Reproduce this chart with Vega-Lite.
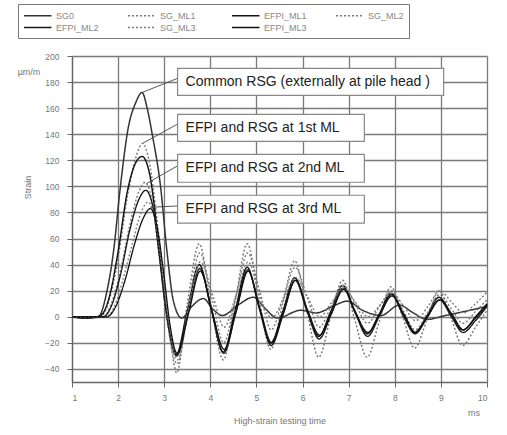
{
  "$schema": "https://vega.github.io/schema/vega-lite/v6.json",
  "width": 415,
  "height": 326,
  "autosize": {"type": "none"},
  "padding": {"left": 72, "top": 56, "right": 20, "bottom": 53},
  "background": "white",
  "config": {
    "font": "Liberation Sans",
    "view": {"stroke": null},
    "axis": {
      "gridColor": "#7a7a7a", "gridWidth": 1.3, "gridOpacity": 1,
      "domainColor": "#666", "domainWidth": 1.3,
      "tickColor": "#666", "tickSize": 5,
      "labelColor": "#777", "labelFontSize": 8.5,
      "titleColor": "#777", "titleFontSize": 9, "titleFontWeight": "normal"
    }
  },
  "resolve": {"scale": {"x": "shared", "y": "shared"}, "axis": {"x": "independent", "y": "independent"}},
  "datasets": {
    "curves": [
      {"s":"SG0","t":1,"v":0},{"s":"SG0","t":1.3,"v":-1},{"s":"SG0","t":1.57,"v":0},{"s":"SG0","t":1.76,"v":20},{"s":"SG0","t":1.9,"v":50},{"s":"SG0","t":2.05,"v":100},{"s":"SG0","t":2.22,"v":145},{"s":"SG0","t":2.38,"v":164},{"s":"SG0","t":2.52,"v":172},{"s":"SG0","t":2.63,"v":160},{"s":"SG0","t":2.74,"v":140},{"s":"SG0","t":2.92,"v":100},{"s":"SG0","t":3.06,"v":50},{"s":"SG0","t":3.2,"v":12},{"s":"SG0","t":3.38,"v":-1},{"s":"SG0","t":3.6,"v":8},{"s":"SG0","t":3.85,"v":14},{"s":"SG0","t":4.05,"v":6},{"s":"SG0","t":4.26,"v":1},{"s":"SG0","t":4.6,"v":9},{"s":"SG0","t":4.93,"v":15},{"s":"SG0","t":5.2,"v":6},{"s":"SG0","t":5.45,"v":-1},{"s":"SG0","t":5.96,"v":5},{"s":"SG0","t":6.3,"v":3},{"s":"SG0","t":6.65,"v":8},{"s":"SG0","t":6.97,"v":12},{"s":"SG0","t":7.3,"v":5},{"s":"SG0","t":7.7,"v":1},{"s":"SG0","t":8.1,"v":9},{"s":"SG0","t":8.4,"v":3},{"s":"SG0","t":8.7,"v":-2},{"s":"SG0","t":9.1,"v":1},{"s":"SG0","t":9.5,"v":4},{"s":"SG0","t":10,"v":8},
      {"s":"SG_ML1","t":1,"v":0},{"s":"SG_ML1","t":1.3,"v":-1},{"s":"SG_ML1","t":1.62,"v":0},{"s":"SG_ML1","t":1.8,"v":12},{"s":"SG_ML1","t":2.0,"v":45},{"s":"SG_ML1","t":2.2,"v":92},{"s":"SG_ML1","t":2.4,"v":124},{"s":"SG_ML1","t":2.53,"v":133},{"s":"SG_ML1","t":2.68,"v":118},{"s":"SG_ML1","t":2.85,"v":72},{"s":"SG_ML1","t":3.0,"v":22},{"s":"SG_ML1","t":3.15,"v":-22},{"s":"SG_ML1","t":3.27,"v":-43},{"s":"SG_ML1","t":3.5,"v":10},{"s":"SG_ML1","t":3.76,"v":56},{"s":"SG_ML1","t":4.02,"v":8},{"s":"SG_ML1","t":4.28,"v":-33},{"s":"SG_ML1","t":4.54,"v":12},{"s":"SG_ML1","t":4.8,"v":56},{"s":"SG_ML1","t":5.05,"v":15},{"s":"SG_ML1","t":5.31,"v":-25},{"s":"SG_ML1","t":5.57,"v":10},{"s":"SG_ML1","t":5.83,"v":43},{"s":"SG_ML1","t":6.09,"v":5},{"s":"SG_ML1","t":6.35,"v":-31},{"s":"SG_ML1","t":6.61,"v":0},{"s":"SG_ML1","t":6.87,"v":28},{"s":"SG_ML1","t":7.13,"v":-2},{"s":"SG_ML1","t":7.4,"v":-31},{"s":"SG_ML1","t":7.66,"v":-4},{"s":"SG_ML1","t":7.92,"v":23},{"s":"SG_ML1","t":8.17,"v":0},{"s":"SG_ML1","t":8.43,"v":-24},{"s":"SG_ML1","t":8.7,"v":-2},{"s":"SG_ML1","t":8.96,"v":20},{"s":"SG_ML1","t":9.22,"v":-1},{"s":"SG_ML1","t":9.47,"v":-22},{"s":"SG_ML1","t":9.75,"v":-8},{"s":"SG_ML1","t":10,"v":5},
      {"s":"EFPI_ML1","t":1,"v":0},{"s":"EFPI_ML1","t":1.3,"v":-1},{"s":"EFPI_ML1","t":1.62,"v":1},{"s":"EFPI_ML1","t":1.8,"v":14},{"s":"EFPI_ML1","t":2.0,"v":50},{"s":"EFPI_ML1","t":2.2,"v":96},{"s":"EFPI_ML1","t":2.38,"v":118},{"s":"EFPI_ML1","t":2.52,"v":123},{"s":"EFPI_ML1","t":2.68,"v":110},{"s":"EFPI_ML1","t":2.85,"v":65},{"s":"EFPI_ML1","t":3.0,"v":15},{"s":"EFPI_ML1","t":3.15,"v":-18},{"s":"EFPI_ML1","t":3.26,"v":-29},{"s":"EFPI_ML1","t":3.5,"v":5},{"s":"EFPI_ML1","t":3.76,"v":40},{"s":"EFPI_ML1","t":4.02,"v":6},{"s":"EFPI_ML1","t":4.28,"v":-27},{"s":"EFPI_ML1","t":4.54,"v":5},{"s":"EFPI_ML1","t":4.8,"v":38},{"s":"EFPI_ML1","t":5.05,"v":8},{"s":"EFPI_ML1","t":5.31,"v":-20},{"s":"EFPI_ML1","t":5.57,"v":4},{"s":"EFPI_ML1","t":5.83,"v":30},{"s":"EFPI_ML1","t":6.09,"v":6},{"s":"EFPI_ML1","t":6.35,"v":-15},{"s":"EFPI_ML1","t":6.61,"v":4},{"s":"EFPI_ML1","t":6.87,"v":24},{"s":"EFPI_ML1","t":7.13,"v":5},{"s":"EFPI_ML1","t":7.4,"v":-13},{"s":"EFPI_ML1","t":7.66,"v":2},{"s":"EFPI_ML1","t":7.92,"v":18},{"s":"EFPI_ML1","t":8.17,"v":3},{"s":"EFPI_ML1","t":8.43,"v":-12},{"s":"EFPI_ML1","t":8.7,"v":1},{"s":"EFPI_ML1","t":8.96,"v":15},{"s":"EFPI_ML1","t":9.22,"v":2},{"s":"EFPI_ML1","t":9.47,"v":-10},{"s":"EFPI_ML1","t":9.75,"v":-1},{"s":"EFPI_ML1","t":10,"v":9},
      {"s":"SG_ML2","t":1,"v":0},{"s":"SG_ML2","t":1.68,"v":0},{"s":"SG_ML2","t":1.85,"v":10},{"s":"SG_ML2","t":2.05,"v":35},{"s":"SG_ML2","t":2.25,"v":70},{"s":"SG_ML2","t":2.45,"v":96},{"s":"SG_ML2","t":2.58,"v":103},{"s":"SG_ML2","t":2.72,"v":92},{"s":"SG_ML2","t":2.88,"v":50},{"s":"SG_ML2","t":3.05,"v":0},{"s":"SG_ML2","t":3.28,"v":-36},{"s":"SG_ML2","t":3.52,"v":8},{"s":"SG_ML2","t":3.77,"v":49},{"s":"SG_ML2","t":4.03,"v":15},{"s":"SG_ML2","t":4.29,"v":-20},{"s":"SG_ML2","t":4.55,"v":15},{"s":"SG_ML2","t":4.81,"v":49},{"s":"SG_ML2","t":5.07,"v":20},{"s":"SG_ML2","t":5.32,"v":-10},{"s":"SG_ML2","t":5.58,"v":14},{"s":"SG_ML2","t":5.84,"v":38},{"s":"SG_ML2","t":6.1,"v":15},{"s":"SG_ML2","t":6.36,"v":-8},{"s":"SG_ML2","t":6.62,"v":8},{"s":"SG_ML2","t":6.88,"v":24},{"s":"SG_ML2","t":7.14,"v":10},{"s":"SG_ML2","t":7.41,"v":-5},{"s":"SG_ML2","t":7.67,"v":8},{"s":"SG_ML2","t":7.93,"v":20},{"s":"SG_ML2","t":8.18,"v":5},{"s":"SG_ML2","t":8.44,"v":-10},{"s":"SG_ML2","t":8.71,"v":3},{"s":"SG_ML2","t":8.97,"v":17},{"s":"SG_ML2","t":9.23,"v":6},{"s":"SG_ML2","t":9.48,"v":-5},{"s":"SG_ML2","t":9.75,"v":4},{"s":"SG_ML2","t":10,"v":13},
      {"s":"EFPI_ML2","t":1,"v":0},{"s":"EFPI_ML2","t":1.68,"v":0},{"s":"EFPI_ML2","t":1.85,"v":8},{"s":"EFPI_ML2","t":2.05,"v":32},{"s":"EFPI_ML2","t":2.25,"v":66},{"s":"EFPI_ML2","t":2.45,"v":90},{"s":"EFPI_ML2","t":2.6,"v":97},{"s":"EFPI_ML2","t":2.75,"v":85},{"s":"EFPI_ML2","t":2.9,"v":45},{"s":"EFPI_ML2","t":3.07,"v":-2},{"s":"EFPI_ML2","t":3.27,"v":-30},{"s":"EFPI_ML2","t":3.52,"v":3},{"s":"EFPI_ML2","t":3.77,"v":37},{"s":"EFPI_ML2","t":4.03,"v":4},{"s":"EFPI_ML2","t":4.29,"v":-28},{"s":"EFPI_ML2","t":4.55,"v":3},{"s":"EFPI_ML2","t":4.81,"v":36},{"s":"EFPI_ML2","t":5.07,"v":6},{"s":"EFPI_ML2","t":5.32,"v":-22},{"s":"EFPI_ML2","t":5.58,"v":2},{"s":"EFPI_ML2","t":5.84,"v":28},{"s":"EFPI_ML2","t":6.1,"v":4},{"s":"EFPI_ML2","t":6.36,"v":-17},{"s":"EFPI_ML2","t":6.62,"v":2},{"s":"EFPI_ML2","t":6.88,"v":22},{"s":"EFPI_ML2","t":7.14,"v":3},{"s":"EFPI_ML2","t":7.41,"v":-15},{"s":"EFPI_ML2","t":7.67,"v":1},{"s":"EFPI_ML2","t":7.93,"v":17},{"s":"EFPI_ML2","t":8.18,"v":1},{"s":"EFPI_ML2","t":8.44,"v":-13},{"s":"EFPI_ML2","t":8.71,"v":0},{"s":"EFPI_ML2","t":8.97,"v":13},{"s":"EFPI_ML2","t":9.23,"v":0},{"s":"EFPI_ML2","t":9.48,"v":-12},{"s":"EFPI_ML2","t":9.75,"v":-3},{"s":"EFPI_ML2","t":10,"v":8},
      {"s":"SG_ML3","t":1,"v":0},{"s":"SG_ML3","t":1.75,"v":0},{"s":"SG_ML3","t":1.92,"v":8},{"s":"SG_ML3","t":2.1,"v":28},{"s":"SG_ML3","t":2.3,"v":55},{"s":"SG_ML3","t":2.5,"v":80},{"s":"SG_ML3","t":2.65,"v":88},{"s":"SG_ML3","t":2.8,"v":75},{"s":"SG_ML3","t":2.95,"v":38},{"s":"SG_ML3","t":3.1,"v":-5},{"s":"SG_ML3","t":3.29,"v":-33},{"s":"SG_ML3","t":3.53,"v":5},{"s":"SG_ML3","t":3.78,"v":42},{"s":"SG_ML3","t":4.04,"v":18},{"s":"SG_ML3","t":4.3,"v":-8},{"s":"SG_ML3","t":4.56,"v":17},{"s":"SG_ML3","t":4.82,"v":42},{"s":"SG_ML3","t":5.08,"v":15},{"s":"SG_ML3","t":5.33,"v":-1},{"s":"SG_ML3","t":5.59,"v":14},{"s":"SG_ML3","t":5.85,"v":30},{"s":"SG_ML3","t":6.11,"v":15},{"s":"SG_ML3","t":6.37,"v":0},{"s":"SG_ML3","t":6.63,"v":11},{"s":"SG_ML3","t":6.89,"v":22},{"s":"SG_ML3","t":7.15,"v":11},{"s":"SG_ML3","t":7.42,"v":0},{"s":"SG_ML3","t":7.68,"v":9},{"s":"SG_ML3","t":7.94,"v":18},{"s":"SG_ML3","t":8.2,"v":8},{"s":"SG_ML3","t":8.45,"v":-3},{"s":"SG_ML3","t":8.72,"v":8},{"s":"SG_ML3","t":8.98,"v":20},{"s":"SG_ML3","t":9.24,"v":11},{"s":"SG_ML3","t":9.49,"v":3},{"s":"SG_ML3","t":9.75,"v":10},{"s":"SG_ML3","t":10,"v":19},
      {"s":"EFPI_ML3","t":1,"v":0},{"s":"EFPI_ML3","t":1.75,"v":0},{"s":"EFPI_ML3","t":1.95,"v":8},{"s":"EFPI_ML3","t":2.15,"v":28},{"s":"EFPI_ML3","t":2.35,"v":55},{"s":"EFPI_ML3","t":2.55,"v":76},{"s":"EFPI_ML3","t":2.7,"v":83},{"s":"EFPI_ML3","t":2.85,"v":68},{"s":"EFPI_ML3","t":3.0,"v":30},{"s":"EFPI_ML3","t":3.12,"v":-5},{"s":"EFPI_ML3","t":3.28,"v":-28},{"s":"EFPI_ML3","t":3.53,"v":3},{"s":"EFPI_ML3","t":3.78,"v":35},{"s":"EFPI_ML3","t":4.04,"v":4},{"s":"EFPI_ML3","t":4.3,"v":-25},{"s":"EFPI_ML3","t":4.56,"v":4},{"s":"EFPI_ML3","t":4.82,"v":35},{"s":"EFPI_ML3","t":5.08,"v":6},{"s":"EFPI_ML3","t":5.33,"v":-20},{"s":"EFPI_ML3","t":5.59,"v":4},{"s":"EFPI_ML3","t":5.85,"v":28},{"s":"EFPI_ML3","t":6.11,"v":5},{"s":"EFPI_ML3","t":6.37,"v":-14},{"s":"EFPI_ML3","t":6.63,"v":3},{"s":"EFPI_ML3","t":6.89,"v":21},{"s":"EFPI_ML3","t":7.15,"v":3},{"s":"EFPI_ML3","t":7.42,"v":-12},{"s":"EFPI_ML3","t":7.68,"v":2},{"s":"EFPI_ML3","t":7.94,"v":16},{"s":"EFPI_ML3","t":8.2,"v":2},{"s":"EFPI_ML3","t":8.45,"v":-12},{"s":"EFPI_ML3","t":8.72,"v":1},{"s":"EFPI_ML3","t":8.98,"v":13},{"s":"EFPI_ML3","t":9.24,"v":2},{"s":"EFPI_ML3","t":9.49,"v":-10},{"s":"EFPI_ML3","t":9.75,"v":0},{"s":"EFPI_ML3","t":10,"v":10}
    ],
    "notes": [
      {"label":"Common RSG (externally at pile head )","x1":3.29,"x2":9.06,"top":190.5,"bot":169.8,"mid":180},
      {"label":"EFPI and RSG at 1st ML","x1":3.29,"x2":7.34,"top":155.2,"bot":134.6,"mid":145},
      {"label":"EFPI and RSG at 2nd ML","x1":3.29,"x2":7.34,"top":124.6,"bot":103.2,"mid":114},
      {"label":"EFPI and RSG at 3rd ML","x1":3.29,"x2":7.34,"top":93.2,"bot":71.8,"mid":82.5}
    ],
    "leaders": [
      {"xa":2.52,"ya":172,"xb":3.3,"yb":183},
      {"xa":2.53,"ya":133,"xb":3.3,"yb":148},
      {"xa":2.61,"ya":102,"xb":3.3,"yb":116},
      {"xa":2.7,"ya":84,"xb":3.3,"yb":85}
    ]
  },
  "layer": [
    {
      "data": {"name": "curves"},
      "mark": {"type": "line", "interpolate": "monotone"},
      "encoding": {
        "x": {"field": "t", "type": "quantitative",
              "scale": {"domain": [1, 10], "nice": false, "zero": false},
              "axis": {"values": [1,2,3,4,5,6,7,8,9,10], "format": "d", "title": "High-strain testing time",
                       "labelPadding": 6, "titleBaseline": "middle", "titleY": 38, "grid": true}},
        "y": {"field": "v", "type": "quantitative",
              "scale": {"domain": [-50, 200], "nice": false, "zero": false},
              "axis": {"values": [-40,-20,0,20,40,60,80,100,120,140,160,180,200], "title": "Strain",
                       "labelPadding": 8, "titleX": -45, "titleY": 131, "titleAlign": "center", "titleBaseline": "middle", "grid": true}},
        "color": {"field": "s", "type": "nominal", "title": null,
                  "scale": {"domain": ["SG0","SG_ML1","EFPI_ML1","SG_ML2","EFPI_ML2","SG_ML3","EFPI_ML3"],
                            "range": ["#333333","#7a7a7a","#111111","#7a7a7a","#1a1a1a","#7a7a7a","#111111"]},
                  "legend": {"orient": "none", "legendX": -54, "legendY": -52, "direction": "horizontal", "columns": 4,
                             "gridAlign": "all", "columnPadding": 26, "rowPadding": 0, "padding": 5,
                             "strokeColor": "#777", "symbolType": "M-1,0H4", "symbolSize": 121, "labelOffset": 20,
                             "labelFontSize": 9, "labelColor": "#888"}},
        "strokeDash": {"field": "s", "type": "nominal", "title": null,
                       "scale": {"domain": ["SG0","SG_ML1","EFPI_ML1","SG_ML2","EFPI_ML2","SG_ML3","EFPI_ML3"],
                                 "range": [[1,0],[2,2],[1,0],[2,2],[1,0],[2,2],[1,0]]}},
        "strokeWidth": {"field": "s", "type": "nominal", "title": null,
                        "scale": {"domain": ["SG0","SG_ML1","EFPI_ML1","SG_ML2","EFPI_ML2","SG_ML3","EFPI_ML3"],
                                  "range": [1.5,1.3,1.8,1.3,1.8,1.3,1.8]}}
      }
    },
    {
      "data": {"name": "leaders"},
      "mark": {"type": "rule", "color": "#444", "strokeWidth": 0.9},
      "encoding": {
        "x": {"field": "xa", "type": "quantitative", "axis": null},
        "y": {"field": "ya", "type": "quantitative", "axis": null},
        "x2": {"field": "xb"},
        "y2": {"field": "yb"}
      }
    },
    {
      "data": {"name": "notes"},
      "mark": {"type": "rect", "fill": "white", "stroke": "#888", "strokeWidth": 1.2},
      "encoding": {
        "x": {"field": "x1", "type": "quantitative", "axis": null},
        "x2": {"field": "x2"},
        "y": {"field": "top", "type": "quantitative", "axis": null},
        "y2": {"field": "bot"}
      }
    },
    {
      "data": {"name": "notes"},
      "mark": {"type": "text", "align": "left", "baseline": "middle", "dx": 8, "fontSize": 14, "color": "#222"},
      "encoding": {
        "x": {"field": "x1", "type": "quantitative", "axis": null},
        "y": {"field": "mid", "type": "quantitative", "axis": null},
        "text": {"field": "label"}
      }
    },
    {
      "data": {"values": [{"u": "µm/m"}]},
      "mark": {"type": "text", "align": "center", "baseline": "middle", "dx": -43, "dy": 16, "fontSize": 9, "color": "#777"},
      "encoding": {
        "x": {"datum": 1, "type": "quantitative", "axis": null},
        "y": {"datum": 200, "type": "quantitative", "axis": null},
        "text": {"field": "u"}
      }
    },
    {
      "data": {"values": [{"u": "ms"}]},
      "mark": {"type": "text", "align": "center", "baseline": "middle", "dx": -13, "dy": 31, "fontSize": 9, "color": "#777"},
      "encoding": {
        "x": {"datum": 10, "type": "quantitative", "axis": null},
        "y": {"datum": -50, "type": "quantitative", "axis": null},
        "text": {"field": "u"}
      }
    }
  ]
}
